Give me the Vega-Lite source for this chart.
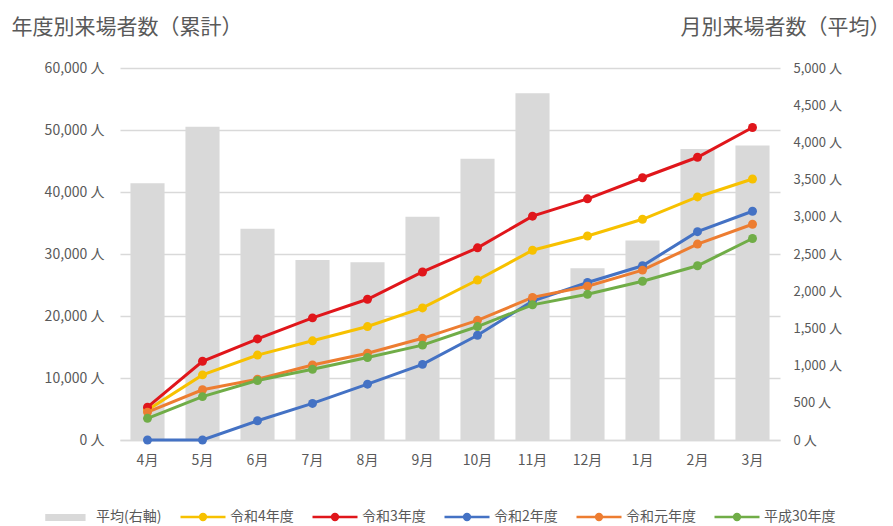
{
  "$schema": "https://vega.github.io/schema/vega-lite/v6.json",
  "width": 660,
  "height": 372,
  "autosize": {"type": "none"},
  "padding": {"left": 120, "top": 68, "right": 113, "bottom": 86},
  "config": {
    "view": {"stroke": null},
    "font": "Noto Sans CJK JP",
    "axis": {"labelFont": "Noto Sans CJK JP", "titleFont": "Noto Sans CJK JP", "labelColor": "#595959", "titleColor": "#595959"},
    "legend": {"labelFont": "Noto Sans CJK JP"}
  },
  "data": {
    "values": [
      {"month": "4月", "series": "平均(右軸)", "value": 3450},
      {"month": "5月", "series": "平均(右軸)", "value": 4210},
      {"month": "6月", "series": "平均(右軸)", "value": 2840},
      {"month": "7月", "series": "平均(右軸)", "value": 2420},
      {"month": "8月", "series": "平均(右軸)", "value": 2390},
      {"month": "9月", "series": "平均(右軸)", "value": 3000},
      {"month": "10月", "series": "平均(右軸)", "value": 3780},
      {"month": "11月", "series": "平均(右軸)", "value": 4660},
      {"month": "12月", "series": "平均(右軸)", "value": 2310},
      {"month": "1月", "series": "平均(右軸)", "value": 2680},
      {"month": "2月", "series": "平均(右軸)", "value": 3910},
      {"month": "3月", "series": "平均(右軸)", "value": 3960},

      {"month": "4月", "series": "令和4年度", "value": 4850},
      {"month": "5月", "series": "令和4年度", "value": 10500},
      {"month": "6月", "series": "令和4年度", "value": 13700},
      {"month": "7月", "series": "令和4年度", "value": 16000},
      {"month": "8月", "series": "令和4年度", "value": 18300},
      {"month": "9月", "series": "令和4年度", "value": 21300},
      {"month": "10月", "series": "令和4年度", "value": 25800},
      {"month": "11月", "series": "令和4年度", "value": 30600},
      {"month": "12月", "series": "令和4年度", "value": 32900},
      {"month": "1月", "series": "令和4年度", "value": 35600},
      {"month": "2月", "series": "令和4年度", "value": 39200},
      {"month": "3月", "series": "令和4年度", "value": 42100},

      {"month": "4月", "series": "令和3年度", "value": 5300},
      {"month": "5月", "series": "令和3年度", "value": 12700},
      {"month": "6月", "series": "令和3年度", "value": 16300},
      {"month": "7月", "series": "令和3年度", "value": 19700},
      {"month": "8月", "series": "令和3年度", "value": 22700},
      {"month": "9月", "series": "令和3年度", "value": 27100},
      {"month": "10月", "series": "令和3年度", "value": 31000},
      {"month": "11月", "series": "令和3年度", "value": 36100},
      {"month": "12月", "series": "令和3年度", "value": 38900},
      {"month": "1月", "series": "令和3年度", "value": 42300},
      {"month": "2月", "series": "令和3年度", "value": 45600},
      {"month": "3月", "series": "令和3年度", "value": 50400},

      {"month": "4月", "series": "令和2年度", "value": 0},
      {"month": "5月", "series": "令和2年度", "value": 0},
      {"month": "6月", "series": "令和2年度", "value": 3100},
      {"month": "7月", "series": "令和2年度", "value": 5900},
      {"month": "8月", "series": "令和2年度", "value": 9000},
      {"month": "9月", "series": "令和2年度", "value": 12200},
      {"month": "10月", "series": "令和2年度", "value": 16900},
      {"month": "11月", "series": "令和2年度", "value": 22400},
      {"month": "12月", "series": "令和2年度", "value": 25400},
      {"month": "1月", "series": "令和2年度", "value": 28100},
      {"month": "2月", "series": "令和2年度", "value": 33600},
      {"month": "3月", "series": "令和2年度", "value": 36900},

      {"month": "4月", "series": "令和元年度", "value": 4500},
      {"month": "5月", "series": "令和元年度", "value": 8100},
      {"month": "6月", "series": "令和元年度", "value": 9800},
      {"month": "7月", "series": "令和元年度", "value": 12100},
      {"month": "8月", "series": "令和元年度", "value": 14000},
      {"month": "9月", "series": "令和元年度", "value": 16400},
      {"month": "10月", "series": "令和元年度", "value": 19300},
      {"month": "11月", "series": "令和元年度", "value": 23000},
      {"month": "12月", "series": "令和元年度", "value": 24800},
      {"month": "1月", "series": "令和元年度", "value": 27400},
      {"month": "2月", "series": "令和元年度", "value": 31600},
      {"month": "3月", "series": "令和元年度", "value": 34800},

      {"month": "4月", "series": "平成30年度", "value": 3500},
      {"month": "5月", "series": "平成30年度", "value": 7000},
      {"month": "6月", "series": "平成30年度", "value": 9600},
      {"month": "7月", "series": "平成30年度", "value": 11400},
      {"month": "8月", "series": "平成30年度", "value": 13300},
      {"month": "9月", "series": "平成30年度", "value": 15300},
      {"month": "10月", "series": "平成30年度", "value": 18300},
      {"month": "11月", "series": "平成30年度", "value": 21800},
      {"month": "12月", "series": "平成30年度", "value": 23500},
      {"month": "1月", "series": "平成30年度", "value": 25600},
      {"month": "2月", "series": "平成30年度", "value": 28100},
      {"month": "3月", "series": "平成30年度", "value": 32500}
    ]
  },
  "encoding": {
    "x": {
      "field": "month",
      "type": "nominal",
      "sort": ["4月", "5月", "6月", "7月", "8月", "9月", "10月", "11月", "12月", "1月", "2月", "3月"],
      "scale": {"paddingInner": 0.38, "paddingOuter": 0.19},
      "axis": {"title": null, "labelAngle": 0, "ticks": false, "labelPadding": 13, "labelFontSize": 14, "domainColor": "#d9d9d9", "domainWidth": 1.5}
    },
    "color": {
      "field": "series",
      "type": "nominal",
      "scale": {
        "domain": ["平均(右軸)", "令和4年度", "令和3年度", "令和2年度", "令和元年度", "平成30年度"],
        "range": ["#d9d9d9", "#f7c100", "#e0161b", "#4472c4", "#ed7d31", "#70ad47"]
      },
      "legend": {
        "title": null,
        "orient": "none",
        "direction": "horizontal",
        "legendX": -75,
        "legendY": 425,
        "symbolSize": 2025,
        "labelOffset": 3,
        "columnPadding": 13,
        "labelFontSize": 14,
        "labelColor": "#595959",
        "encode": {
          "symbols": {
            "update": {
              "shape": [
                {"test": "datum.value === '平均(右軸)'", "value": "M-1,-0.1H0.68V0.1H-1Z"},
                {"value": "M-1,0H1M-0.13,0A0.13,0.13,0,1,0,0.13,0A0.13,0.13,0,1,0,-0.13,0Z"}
              ],
              "fill": {"scale": "color", "field": "value"},
              "stroke": {"scale": "color", "field": "value"},
              "strokeWidth": {"value": 2.5},
              "opacity": {"value": 1},
              "fillOpacity": {"value": 1}
            }
          }
        }
      }
    }
  },
  "layer": [
    {
      "transform": [{"filter": "datum.series === '平均(右軸)'"}],
      "mark": {"type": "bar"},
      "encoding": {
        "y": {
          "field": "value",
          "type": "quantitative",
          "scale": {"domain": [0, 5000]},
          "axis": {
            "orient": "right",
            "values": [0, 500, 1000, 1500, 2000, 2500, 3000, 3500, 4000, 4500, 5000],
            "labelExpr": "format(datum.value, ',') + ' 人'",
            "grid": false,
            "domain": false,
            "ticks": false,
            "labelPadding": 13,
            "labelFontSize": 13,
            "title": "月別来場者数（平均）",
            "titleAngle": 0,
            "titleAlign": "right",
            "titleBaseline": "middle",
            "titleX": 110,
            "titleY": -41,
            "titleFontSize": 21,
            "titleFontWeight": "normal"
          }
        }
      }
    },
    {
      "transform": [{"filter": "datum.series !== '平均(右軸)'"}],
      "mark": {"type": "line", "strokeWidth": 3, "point": {"filled": true, "size": 80}},
      "encoding": {
        "y": {
          "field": "value",
          "type": "quantitative",
          "scale": {"domain": [0, 60000]},
          "axis": {
            "orient": "left",
            "values": [0, 10000, 20000, 30000, 40000, 50000, 60000],
            "labelExpr": "format(datum.value, ',') + ' 人'",
            "grid": true,
            "gridColor": "#d9d9d9",
            "gridWidth": 1.5,
            "domain": false,
            "ticks": false,
            "labelPadding": 16,
            "labelFontSize": 14,
            "title": "年度別来場者数（累計）",
            "titleAngle": 0,
            "titleAlign": "left",
            "titleBaseline": "middle",
            "titleX": -109,
            "titleY": -41,
            "titleFontSize": 21,
            "titleFontWeight": "normal"
          }
        }
      }
    }
  ],
  "resolve": {"scale": {"y": "independent"}}
}
